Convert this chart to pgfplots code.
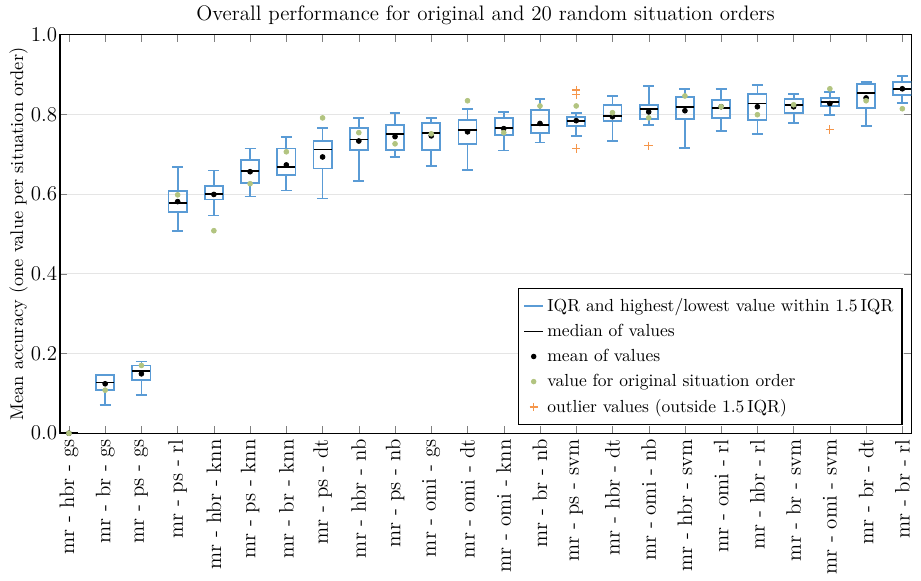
\documentclass[border=0pt]{standalone}
\usepackage{pgfplots}
\pgfplotsset{compat=1.18}
\usepgfplotslibrary{statistics}

\definecolor{boxblue}{RGB}{90,155,213}
\definecolor{origgreen}{RGB}{178,196,128}
\definecolor{outorange}{RGB}{245,150,75}

\pgfplotsset{
  shortline/.style={legend image code/.code={\draw[##1] (0pt,0pt) -- (11pt,0pt);}},
  shortmark/.style={legend image code/.code={\draw[##1] plot coordinates {(5.5pt,0pt)};}},
}

% one box per combination: lower whisker, lower quartile, median, upper quartile, upper whisker
\newcommand{\bx}[6]{%
  \addplot[boxplot prepared={draw position=#1,
      lower whisker=#2, lower quartile=#3, median=#4,
      upper quartile=#5, upper whisker=#6,
      box extend=0.5, whisker extend=0.3},
    draw=boxblue, line width=1pt, mark=+, mark size=2.4pt,
    mark options={draw=outorange, line width=0.7pt},
    forget plot]}

\begin{document}
\begin{tikzpicture}
\begin{axis}[
  name=ax,
  scale only axis,
  width=487pt, height=228pt,
  xmin=-0.25, xmax=23.25,
  ymin=0, ymax=1,
  boxplot/draw direction=y,
  boxplot/every box/.style={draw=boxblue, line width=1pt},
  boxplot/every whisker/.style={draw=boxblue, line width=1pt},
  boxplot/every median/.style={draw=black, line width=1pt},
  title={\large Overall performance for original and 20 random situation orders},
  title style={yshift=-4pt},
  ylabel={Mean accuracy (one value per situation order)},
  ylabel style={yshift=-5pt, font=\fontsize{10.5}{12}\selectfont},
  ytick={0,0.2,...,1.0},
  yticklabel style={/pgf/number format/fixed, /pgf/number format/fixed zerofill, /pgf/number format/precision=1},
  xtick={0,...,23},
  xticklabels={mr - hbr - gs, mr - br - gs, mr - ps - gs, mr - ps - rl, mr - hbr - knn,
    mr - ps - knn, mr - br - knn, mr - ps - dt, mr - hbr - nb, mr - ps - nb, mr - omi - gs,
    mr - omi - dt, mr - omi - knn, mr - br - nb, mr - ps - svm, mr - hbr - dt, mr - omi - nb,
    mr - hbr - svm, mr - omi - rl, mr - hbr - rl, mr - br - svm, mr - omi - svm, mr - br - dt,
    mr - br - rl},
  xticklabel style={rotate=90, anchor=east, font=\large},
  yticklabel style={font=\large, xshift=2pt},
  tick align=inside,
  major tick length=4pt,
  ymajorgrids,
  grid style={gray!20},
  axis line style={black, thick},
  legend cell align=left,
  legend style={at={(0.99,0.02)}, anchor=south east, draw=black, thick,
    font=\normalsize, row sep=1.8pt, inner sep=3pt, inner ysep=3.5pt},
  legend image post style={line width=0.7pt},
]
\bx{0}{0}{0}{0}{0}{0} coordinates {};
\bx{1}{0.071}{0.109}{0.127}{0.146}{0.146} coordinates {};
\bx{2}{0.095}{0.133}{0.156}{0.170}{0.180} coordinates {};
\bx{3}{0.508}{0.554}{0.578}{0.608}{0.667} coordinates {};
\bx{4}{0.546}{0.586}{0.601}{0.621}{0.659} coordinates {};
\bx{5}{0.594}{0.627}{0.658}{0.686}{0.714} coordinates {};
\bx{6}{0.609}{0.648}{0.667}{0.714}{0.744} coordinates {};
\bx{7}{0.589}{0.664}{0.712}{0.733}{0.766} coordinates {};
\bx{8}{0.632}{0.711}{0.737}{0.766}{0.791} coordinates {};
\bx{9}{0.692}{0.711}{0.751}{0.774}{0.804} coordinates {};
\bx{10}{0.671}{0.711}{0.754}{0.779}{0.791} coordinates {};
\bx{11}{0.661}{0.726}{0.761}{0.786}{0.814} coordinates {};
\bx{12}{0.709}{0.749}{0.766}{0.791}{0.806} coordinates {};
\bx{13}{0.729}{0.754}{0.774}{0.811}{0.839} coordinates {};
\bx{14}{0.746}{0.771}{0.784}{0.794}{0.804} table[row sep=\\, y index=0] {data\\ 0.861\\ 0.849\\ 0.714\\};
\bx{15}{0.733}{0.784}{0.796}{0.824}{0.846} coordinates {};
\bx{16}{0.774}{0.789}{0.814}{0.824}{0.871} table[row sep=\\, y index=0] {data\\ 0.721\\};
\bx{17}{0.716}{0.789}{0.819}{0.844}{0.864} coordinates {};
\bx{18}{0.759}{0.791}{0.816}{0.836}{0.864} coordinates {};
\bx{19}{0.751}{0.786}{0.827}{0.851}{0.874} coordinates {};
\bx{20}{0.779}{0.804}{0.824}{0.839}{0.851} coordinates {};
\bx{21}{0.799}{0.821}{0.831}{0.841}{0.856} table[row sep=\\, y index=0] {data\\ 0.762\\};
\bx{22}{0.771}{0.816}{0.854}{0.876}{0.881} coordinates {};
\bx{23}{0.829}{0.849}{0.864}{0.881}{0.896} coordinates {};

% mean of values
\addplot[only marks, mark=*, mark size=1.4pt, black, forget plot] coordinates {
  (0,0) (1,0.124) (2,0.149) (3,0.581) (4,0.599) (5,0.656) (6,0.673) (7,0.693)
  (8,0.733) (9,0.744) (10,0.746) (11,0.756) (12,0.764) (13,0.777) (14,0.784)
  (15,0.794) (16,0.806) (17,0.809) (18,0.819) (19,0.819) (20,0.819) (21,0.827)
  (22,0.841) (23,0.864)};
% value for original situation order
\addplot[only marks, mark=*, mark size=1.4pt, origgreen, forget plot] coordinates {
  (0,0) (1,0.108) (2,0.170) (3,0.598) (4,0.508) (5,0.626) (6,0.706) (7,0.791)
  (8,0.754) (9,0.726) (10,0.751) (11,0.834) (12,0.754) (13,0.821) (14,0.821)
  (15,0.804) (16,0.791) (17,0.846) (18,0.819) (19,0.799) (20,0.824) (21,0.864)
  (22,0.834) (23,0.814)};

\addlegendimage{boxblue, shortline}
\addlegendentry{IQR and highest/lowest value within 1.5\,IQR}
\addlegendimage{black, shortline}
\addlegendentry{median of values}
\addlegendimage{only marks, mark=*, mark size=1.2pt, black, shortmark}
\addlegendentry{mean of values}
\addlegendimage{only marks, mark=*, mark size=1.2pt, origgreen, shortmark}
\addlegendentry{value for original situation order}
\addlegendimage{only marks, mark=+, mark size=2.4pt, outorange, line width=0.7pt, shortmark}
\addlegendentry{outlier values (outside 1.5\,IQR)}
\end{axis}
\path ([xshift=-2pt]ax.outer west) ([xshift=5.5pt]ax.south east);
\end{tikzpicture}
\end{document}
